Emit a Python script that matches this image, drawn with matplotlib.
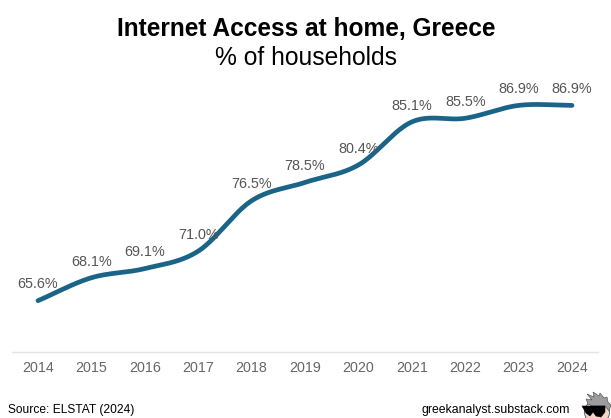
import numpy as np
import matplotlib
matplotlib.use("Agg")
import matplotlib.pyplot as plt
from matplotlib.patches import Polygon, Ellipse

plt.rcParams["font.family"] = ["Liberation Sans", "DejaVu Sans"]

years = [2014, 2015, 2016, 2017, 2018, 2019, 2020, 2021, 2022, 2023, 2024]
share = [65.6, 68.1, 69.1, 71.0, 76.5, 78.5, 80.4, 85.1, 85.5, 86.9, 86.9]

LINE = "#1a6488"
W, H = 611, 418


def smooth_curve(x, y, per_segment=40):
    """Catmull-Rom style cubic Hermite curve through the given points."""
    x, y = np.asarray(x, float), np.asarray(y, float)
    h = np.diff(x)
    m = np.gradient(y, x)
    xs, ys = [], []
    for i in range(len(h)):
        t = np.linspace(0, 1, per_segment)
        a = (2 * t**3 - 3 * t**2 + 1) * y[i] + (t**3 - 2 * t**2 + t) * h[i] * m[i]
        b = (-2 * t**3 + 3 * t**2) * y[i + 1] + (t**3 - t**2) * h[i] * m[i + 1]
        xs.append(x[i] + t * h[i])
        ys.append(a + b)
    return np.concatenate(xs), np.concatenate(ys)


fig = plt.figure(figsize=(W / 100, H / 100), dpi=100, facecolor="white")
ax = fig.add_axes([12 / W, 1 - 352 / H, 586 / W, 275 / H])
ax.set_xlim(2014 - 26 / 53.4, 2024 + 26 / 53.4)
ax.set_ylim(60, 90)
ax.patch.set_alpha(0)

cx, cy = smooth_curve(years, share)
ax.plot(cx, cy, color=LINE, lw=3.4, solid_capstyle="round", zorder=3)

for yr, val in zip(years, share):
    ax.annotate(f"{val:.1f}%", (yr, val), xytext=(0, 11.7), textcoords="offset points",
                ha="center", va="center", fontsize=10.4, color="#555555", zorder=4)

for side in ("top", "left", "right"):
    ax.spines[side].set_visible(False)
ax.spines["bottom"].set_color("#e4e4e4")
ax.spines["bottom"].set_linewidth(1.0)
ax.set_yticks([])
ax.set_xticks(years)
ax.tick_params(axis="x", length=0, pad=6.5, labelsize=10.3, labelcolor="#666666")

fig.text(306 / W, 1 - 28.5 / H, "Internet Access at home, Greece", ha="center", va="center",
         fontsize=17.65, fontweight="bold", color="black")
fig.text(306 / W, 1 - 58 / H, "% of households", ha="center", va="center",
         fontsize=17.7, color="black")
fig.text(8 / W, 1 - 410.5 / H, "Source: ELSTAT (2024)", ha="left", va="center",
         fontsize=8.65, color="black")
fig.text(570 / W, 1 - 410.5 / H, "greekanalyst.substack.com", ha="right", va="center",
         fontsize=8.8, color="black")

# Small cartoon head with spiky hair and sunglasses in the corner
logo = fig.add_axes([0, 0, 1, 1], zorder=5)
logo.set_xlim(0, W)
logo.set_ylim(H, 0)
logo.axis("off")
logo.patch.set_alpha(0)
logo.add_patch(Ellipse((597, 412), 25, 24, fc="#f6d3c4", ec="#333333", lw=0.5))
logo.add_patch(Polygon([(588, 404), (586, 399), (592, 400), (587, 394), (594, 397), (593, 392),
                        (599, 396), (600, 393), (604, 398), (607, 397), (608, 402), (611, 405),
                        (609, 411), (605, 406), (592, 406)],
                       fc="#9c9c9c", ec="#444444", lw=0.4))
logo.add_patch(Polygon([(582, 406), (605, 406), (605, 412), (601, 417), (596, 416), (593, 412),
                        (590, 416), (586, 413)], fc="black", ec="black", lw=0.4))

fig.savefig("out.png", dpi=100)
